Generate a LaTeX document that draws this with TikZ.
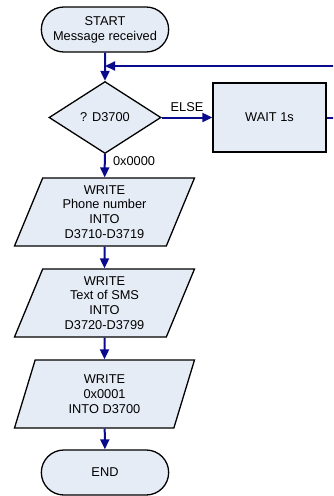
\documentclass[tikz,border=0pt]{standalone}
\usepackage{fontspec}
\setmainfont{Liberation Sans}
\usetikzlibrary{shapes.geometric,shapes.misc,arrows.meta,positioning}
\definecolor{flowline}{RGB}{10,10,140}
\definecolor{boxfill}{RGB}{230,236,246}
\begin{document}
\begin{tikzpicture}[x=1pt, y=-1pt, >={Triangle[length=10pt,width=9pt]},
	every node/.style={font=\fontsize{12.8}{14.8}\selectfont, align=center},
	box/.style={draw, line width=1.3pt, fill=boxfill},
	term/.style={box, rounded rectangle, minimum width=134pt, minimum height=45pt},
	io/.style={box, trapezium, trapezium left angle=63, trapezium right angle=117,
		trapezium stretches body, minimum width=180pt, minimum height=68pt, inner sep=1pt},
	flow/.style={->, draw=flowline, line width=2pt}]
	\useasboundingbox (0,0) rectangle (333,496);
	\clip (0,0) rectangle (333,496);
	\path
		(105,29.5) node[term] (start) {START\\Message received}
		(105,117.5) node[box, diamond, minimum width=112pt, minimum height=67pt] (test) {? D3700}
		(269.5,117.5) node[box, minimum width=113pt, minimum height=69pt] (wait) {WAIT 1s}
		(104.5,212) node[io] (phone) {WRITE\\Phone number\\INTO\\D3710-D3719}
		(104.5,303) node[io] (sms) {WRITE\\Text of SMS\\INTO\\D3720-D3799}
		(104.5,394) node[io] (flag) {WRITE\\0x0001\\INTO D3700}
		(105,472.5) node[term] (stop) {END}
		(105,66) coordinate (back)
		(345,66) coordinate (turn)
	;

	\draw[flow] (start) -- (test);
	\draw[flow] (test) -- node[above=2pt]{ELSE} (wait);
	\draw[flow] (wait.east) -| (turn) -- (back);
	\draw[flow] (test) -- node[right=4pt, pos=.3]{0x0000} (phone);
	\draw[flow] (phone) -- (sms);
	\draw[flow] (sms) -- (flag);
	\draw[flow] (flag) -- (stop);
\end{tikzpicture}
\end{document}
